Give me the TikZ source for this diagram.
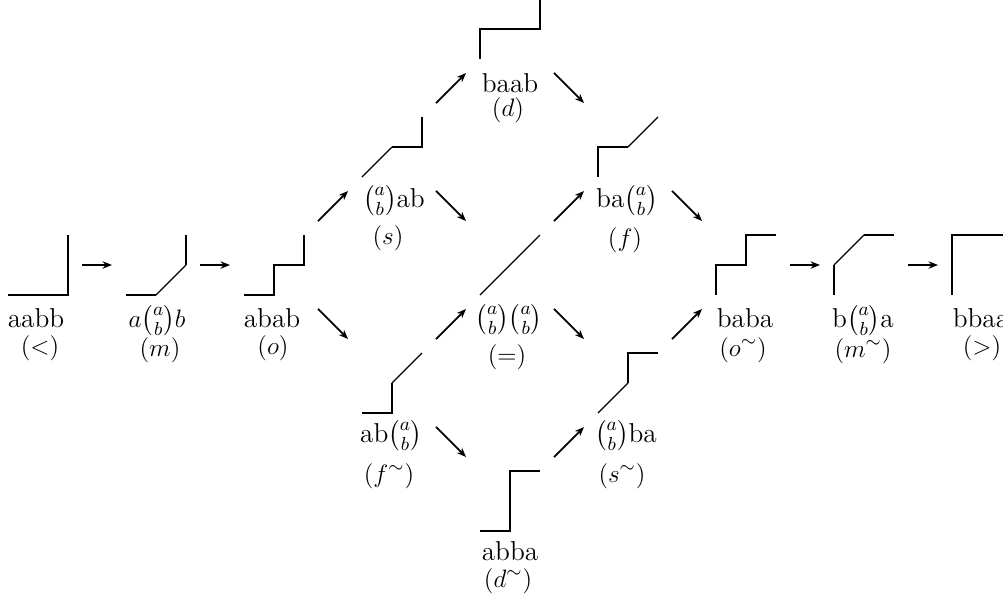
\documentclass[tikz,border=0pt]{standalone}
\usepackage{amsmath}
\usetikzlibrary{arrows.meta}
\begin{document}
\begin{tikzpicture}[x=0.476pt,y=-0.476pt,
  iconbox/.style={rectangle,minimum size=28.56pt,inner sep=0pt,outer sep=6.66pt},
  hv/.style={line width=1.3pt,line join=miter},
  dg/.style={line width=0.6pt},
  arr/.style={-{Stealth[length=4.5pt,width=3.5pt]},line width=0.85pt},
  wd/.style={anchor=base,inner sep=0pt,font=\fontsize{13}{15.6}\selectfont},
  lb/.style={anchor=base,inner sep=0pt,font=\fontsize{13}{15.6}\selectfont}]
\useasboundingbox (0,0) rectangle (1003,601);
% icon anchor nodes
\node[iconbox] (n1) at (38,265) {};
\node[iconbox] (n2) at (156,265) {};
\node[iconbox] (n3) at (274,265) {};
\node[iconbox] (n4) at (392,147) {};
\node[iconbox] (n5) at (392,383) {};
\node[iconbox] (n6) at (510,29) {};
\node[iconbox] (n7) at (510,265) {};
\node[iconbox] (n8) at (510,501) {};
\node[iconbox] (n9) at (628,147) {};
\node[iconbox] (n10) at (628,383) {};
\node[iconbox] (n11) at (746,265) {};
\node[iconbox] (n12) at (864,265) {};
\node[iconbox] (n13) at (982,265) {};
% icons: a = right, b = up, (a b) = diagonal
% aabb
\draw[hv] (n1) ++(-30,30) -- ++(60,0) -- ++(0,-60);
% a(ab)b
\draw[hv] (n2) ++(-30,30) -- ++(30,0);
\draw[dg] (n2) ++(0,30) -- ++(30,-30);
\draw[hv] (n2) ++(30,0) -- ++(0,-30);
% abab
\draw[hv] (n3) ++(-30,30) -- ++(30,0) -- ++(0,-30) -- ++(30,0) -- ++(0,-30);
% (ab)ab
\draw[dg] (n4) ++(-30,30) -- ++(30,-30);
\draw[hv] (n4) ++(0,0) -- ++(30,0) -- ++(0,-30);
% ab(ab)
\draw[hv] (n5) ++(-30,30) -- ++(30,0) -- ++(0,-30);
\draw[dg] (n5) ++(0,0) -- ++(30,-30);
% baab
\draw[hv] (n6) ++(-30,30) -- ++(0,-30) -- ++(60,0) -- ++(0,-30);
% (ab)(ab)
\draw[dg] (n7) ++(-30,30) -- ++(60,-60);
% abba
\draw[hv] (n8) ++(-30,30) -- ++(30,0) -- ++(0,-60) -- ++(30,0);
% ba(ab)
\draw[hv] (n9) ++(-30,30) -- ++(0,-30) -- ++(30,0);
\draw[dg] (n9) ++(0,0) -- ++(30,-30);
% (ab)ba
\draw[dg] (n10) ++(-30,30) -- ++(30,-30);
\draw[hv] (n10) ++(0,0) -- ++(0,-30) -- ++(30,0);
% baba
\draw[hv] (n11) ++(-30,30) -- ++(0,-30) -- ++(30,0) -- ++(0,-30) -- ++(30,0);
% b(ab)a
\draw[hv] (n12) ++(-30,30) -- ++(0,-30);
\draw[dg] (n12) ++(-30,0) -- ++(30,-30);
\draw[hv] (n12) ++(0,-30) -- ++(30,0);
% bbaa
\draw[hv] (n13) ++(-30,30) -- ++(0,-60) -- ++(60,0);
% texts
\node[wd] (t1) at (36,327) {aabb};
\node[lb] (l1) at (40,354) {$(<)$};
\node[wd] (t2) at (157,327) {$a\binom{a}{b}b$};
\node[lb] (l2) at (160,356) {$(m)$};
\node[wd] (t3) at (272,327) {abab};
\node[lb] (l3) at (273,354) {$(o)$};
\node[wd] (t4) at (394,207) {$\binom{a}{b}$ab};
\node[lb] (l4) at (388,244) {$(s)$};
\node[wd] (t5) at (391,442) {ab$\binom{a}{b}$};
\node[lb] (l5) at (389,482) {$(f^\sim)$};
\node[wd] (t6) at (510,92) {baab};
\node[lb] (l6) at (508,116) {$(d)$};
\node[wd] (t7) at (509,326) {$\binom{a}{b}\binom{a}{b}$};
\node[lb] (l7) at (507,363) {$(=)$};
\node[wd] (t8) at (510,560) {abba};
\node[lb] (l8) at (508,587) {$(d^\sim)$};
\node[wd] (t9) at (627,207) {ba$\binom{a}{b}$};
\node[lb] (l9) at (625,246) {$(f)$};
\node[wd] (t10) at (626,442) {$\binom{a}{b}$ba};
\node[lb] (l10) at (622,482) {$(s^\sim)$};
\node[wd] (t11) at (745,327) {baba};
\node[lb] (l11) at (743,356) {$(o^\sim)$};
\node[wd] (t12) at (863,327) {b$\binom{a}{b}$a};
\node[lb] (l12) at (863,357) {$(m^\sim)$};
\node[wd] (t13) at (981,327) {bbaa};
\node[lb] (l13) at (982,354) {$(>)$};
% arrows
\draw[arr] (n1) -- (n2);
\draw[arr] (n2) -- (n3);
\draw[arr] (n3) -- (n4);
\draw[arr] (n3) -- (n5);
\draw[arr] (n4) -- (n6);
\draw[arr] (n4) -- (n7);
\draw[arr] (n5) -- (n7);
\draw[arr] (n5) -- (n8);
\draw[arr] (n6) -- (n9);
\draw[arr] (n7) -- (n9);
\draw[arr] (n7) -- (n10);
\draw[arr] (n8) -- (n10);
\draw[arr] (n9) -- (n11);
\draw[arr] (n10) -- (n11);
\draw[arr] (n11) -- (n12);
\draw[arr] (n12) -- (n13);
\end{tikzpicture}
\end{document}
